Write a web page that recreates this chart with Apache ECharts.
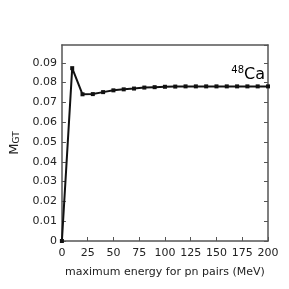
<!DOCTYPE html>
<html><head><meta charset="utf-8">
<script src="https://cdn.jsdelivr.net/npm/echarts@6/dist/echarts.min.js"></script>
<style>html,body{margin:0;padding:0;background:#fff}#c{width:289px;height:289px}</style>
</head><body><div id="c"></div>
<script>
const energies = [0,10,20,30,40,50,60,70,80,90,100,110,120,130,140,150,160,170,180,190,200];
const mgt = [0,0.0873,0.0741,0.0742,0.0752,0.0761,0.0766,0.0770,0.0775,0.0777,0.0779,0.0780,0.0781,0.0781,0.0781,0.0781,0.0781,0.0781,0.0781,0.0781,0.0781];
const xTicks = [0,25,50,75,100,125,150,175,200];
const yTicks = ['0','0.01','0.02','0.03','0.04','0.05','0.06','0.07','0.08','0.09'];
const xName = 'maximum energy for pn pairs (MeV)';
const nucleus = {mass:'48', sym:'Ca'};

const font = 'DejaVu Sans';
const axColor = '#555';
const chart = echarts.init(document.getElementById('c'), null, {renderer:'canvas'});
chart.setOption({
  animation:false,
  backgroundColor:'#fff',
  grid:{left:59,right:21,top:45,bottom:48},
  xAxis:[{
    type:'value', min:xTicks[0], max:xTicks[xTicks.length-1], interval:xTicks[1]-xTicks[0],
    name:xName, nameLocation:'middle', nameGap:26,
    nameTextStyle:{fontFamily:font,fontSize:11,color:'#222'},
    axisLine:{lineStyle:{color:axColor,width:1.5}},
    axisTick:{inside:true,length:4,lineStyle:{color:axColor}},
    axisLabel:{fontFamily:font,fontSize:11,color:'#222',margin:7},
    splitLine:{show:false}
  },{
    type:'value', position:'top', min:0, max:200,
    axisLine:{show:true,onZero:false,lineStyle:{color:axColor,width:1.5}},
    axisTick:{show:false}, axisLabel:{show:false}, splitLine:{show:false}
  }],
  yAxis:[{
    type:'value', min:0, max:0.099, interval:0.01,
    name:'{m|M}{s|GT}', nameLocation:'middle', nameGap:35, nameRotate:90,
    nameTextStyle:{fontFamily:font,color:'#222',rich:{m:{fontFamily:font,fontSize:13,color:'#222'},s:{fontFamily:font,fontSize:9,color:'#222',padding:[5,0,0,0]}}},
    axisLine:{show:true,onZero:false,lineStyle:{color:axColor,width:1.5}},
    axisTick:{inside:true,length:4,lineStyle:{color:axColor}},
    axisLabel:{fontFamily:font,fontSize:11,color:'#222',margin:5,showMaxLabel:false,
      formatter:(v)=>{const i=Math.round(v/0.01);return Math.abs(v-i*0.01)<1e-9?yTicks[i]:'';}},
    splitLine:{show:false}
  },{
    type:'value', position:'right', min:0, max:0.099, interval:0.01,
    axisLine:{show:true,onZero:false,lineStyle:{color:axColor,width:1.5}},
    axisTick:{inside:true,length:4,lineStyle:{color:axColor}},
    axisLabel:{show:false}, splitLine:{show:false}
  }],
  graphic:[{
    type:'text', right:24, top:65,
    style:{text:'{a|'+nucleus.mass+'}{b|'+nucleus.sym+'}',
      rich:{a:{fontFamily:font,fontSize:10,color:'#222',padding:[0,0,9,0]},b:{fontFamily:font,fontSize:16,color:'#222'}}}
  }],
  series:[{
    type:'line', data:energies.map((e,i)=>[e,mgt[i]]),
    lineStyle:{color:'#111',width:2}, itemStyle:{color:'#111'},
    symbol:'rect', symbolSize:4, showSymbol:true, clip:false
  }]
});
</script></body></html>
